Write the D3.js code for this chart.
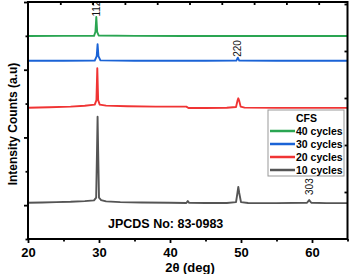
<!DOCTYPE html>
<html><head><meta charset="utf-8">
<script src="https://cdn.jsdelivr.net/npm/d3@7"></script>
<style>
html,body{margin:0;padding:0;background:#fff;}
svg{display:block;font-family:"Liberation Sans",Arial,sans-serif;}
</style></head>
<body><svg id="c" width="350" height="274"></svg>
<script>
// ---- data ----
const seriesNames = ["40 cycles","30 cycles","20 cycles","10 cycles"];
const seriesColors = ["#2aa552","#1a63d6","#f03434","#555555"];
const green40 = [[20,2998],[25,2999],[29.3,3000],[29.5,3060],[29.62,3279],[29.74,3060],[29.95,3005],[35,2999],[42,2998],[50,2999],[58,2998],[65,2998]];
const blue30 = [[20,2633],[25,2633],[29.4,2635],[29.68,2700],[29.8,2875],[29.92,2700],[30.2,2638],[35,2633],[40,2633],[45,2633],[49.35,2635],[49.55,2678],[49.75,2635],[55,2633],[65,2633]];
const red20 = [[20,1939],[23,1945],[26,1955],[28,1968],[29.4,1985],[29.64,2050],[29.76,2521],[29.88,2050],[30.1,1985],[31,1970],[34,1960],[38,1955],[42.3,1955],[42.6,1935],[45,1935],[48,1938],[49.3,1950],[49.5,2040],[49.62,2078],[49.75,2040],[49.95,1955],[50.5,1940],[55,1937],[60,1937],[65,1937]];
const gray10 = [[20,536],[22,540],[24,545],[26,550],[28,560],[29.3,570],[29.6,610],[29.72,1300],[29.8,1806],[29.88,1300],[30.0,610],[30.3,575],[31,555],[33,545],[36,538],[40,535],[42.3,532],[42.5,560],[42.7,535],[45,532],[48,532],[49.3,545],[49.5,680],[49.62,768],[49.75,680],[50,545],[51,532],[55,530],[59.3,535],[59.6,575],[59.9,535],[62,530],[65,530]];
const seriesData = [green40, blue30, red20, gray10];
const peakLabels = ["112","220","303"];
const peakTheta = [29.62, 49.55, 59.6];
const peakLabelBase = [3285, 2690, 650];
const xMajorTicks = [20,30,40,50,60];
const xMinorTicks = [25,35,45,55,65];
const yMajorTicks = [500,1500,2500,3500];
const yMinorTicks = [0,1000,2000,3000];
const legendTitle = "CFS";
const noteText = "JPCDS No: 83-0983";
const xTitle = "2θ (deg)";
const yTitle = "Intensity Counts (a.u)";

// ---- layout ----
const L = 28, R = 347.5, T = 2, B = 239;
const svg = d3.select("#c");
const x = d3.scaleLinear().domain([20,65]).range([L,R]);
const y = d3.scaleLinear().domain([0,3500]).range([B,T]);
const xTop = d3.scaleLinear().domain([0,(R-L)/32.3]).range([L,R]);
const yRight = d3.scaleLinear().domain([0,(B-T)/47]).range([B,T]);

// lines
const line = d3.line().x(d=>x(d[0])).y(d=>y(d[1]));
svg.append("g").selectAll("path").data(seriesData).join("path")
  .attr("d", line).attr("fill","none")
  .attr("stroke",(d,i)=>seriesColors[i]).attr("stroke-width",1.9)
  .attr("stroke-linejoin","round");

// peak labels
svg.append("g").selectAll("text").data(peakLabels).join("text")
  .attr("transform",(d,i)=>`translate(${x(peakTheta[i])},${y(peakLabelBase[i])}) rotate(-90)`)
  .attr("dy","0.35em").attr("font-size",10).attr("fill","#111").text(d=>d);

// axes
function styleAxis(g){ g.select(".domain").remove(); g.selectAll("line").attr("stroke","#000").attr("stroke-width",1.8); }
svg.append("g").attr("transform",`translate(0,${B})`)
  .call(d3.axisBottom(x).tickValues(xMajorTicks).tickSize(4).tickPadding(5).tickFormat(d3.format("d")))
  .call(styleAxis)
  .call(g=>g.selectAll("text").attr("font-size",13).attr("font-weight","bold").attr("fill","#000").attr("font-family","Liberation Sans, Arial"));
svg.append("g").attr("transform",`translate(0,${B})`)
  .call(d3.axisBottom(x).tickValues(xMinorTicks).tickSize(2.5).tickFormat(""))
  .call(styleAxis);
svg.append("g").attr("transform",`translate(${L},0)`)
  .call(d3.axisLeft(y).tickValues(yMajorTicks).tickSize(4).tickFormat(""))
  .call(styleAxis);
svg.append("g").attr("transform",`translate(${L},0)`)
  .call(d3.axisLeft(y).tickValues(yMinorTicks).tickSize(2.5).tickFormat(""))
  .call(styleAxis);
svg.append("g").attr("transform",`translate(0,${T})`)
  .call(d3.axisBottom(xTop).tickValues(d3.range(1,10)).tickSize(3).tickFormat(""))
  .call(styleAxis);
svg.append("g").attr("transform",`translate(${R},0)`)
  .call(d3.axisLeft(yRight).tickValues(d3.range(1,6)).tickSize(3).tickFormat(""))
  .call(styleAxis);
// frame
svg.append("rect").attr("x",L).attr("y",T).attr("width",R-L).attr("height",B-T)
  .attr("fill","none").attr("stroke","#000").attr("stroke-width",2);

// legend
const lg = svg.append("g").attr("transform","translate(268,110)");
lg.append("rect").attr("width",76).attr("height",66).attr("fill","#fff").attr("stroke","#999").attr("stroke-width",1);
lg.append("text").attr("x",28).attr("y",12).attr("font-size",10.5).attr("font-weight","bold").text(legendTitle);
const items = lg.selectAll("g.it").data(seriesNames).join("g").attr("class","it")
  .attr("transform",(d,i)=>`translate(0,${21+i*13})`);
items.append("line").attr("x1",2).attr("x2",27).attr("stroke",(d,i)=>seriesColors[i]).attr("stroke-width",2.5);
items.append("text").attr("x",28).attr("dy","0.35em").attr("font-size",10.5).attr("font-weight","bold").text(d=>d);

// note
svg.append("text").attr("x",108).attr("y",228).attr("font-size",12.5).attr("font-weight","bold").text(noteText);
// titles
svg.append("text").attr("x",190).attr("y",272).attr("text-anchor","middle").attr("font-size",13).attr("font-weight","bold").text(xTitle);
svg.append("text").attr("transform",`translate(17,124) rotate(-90)`).attr("text-anchor","middle").attr("font-size",12).attr("font-weight","bold").text(yTitle);
</script></body></html>
